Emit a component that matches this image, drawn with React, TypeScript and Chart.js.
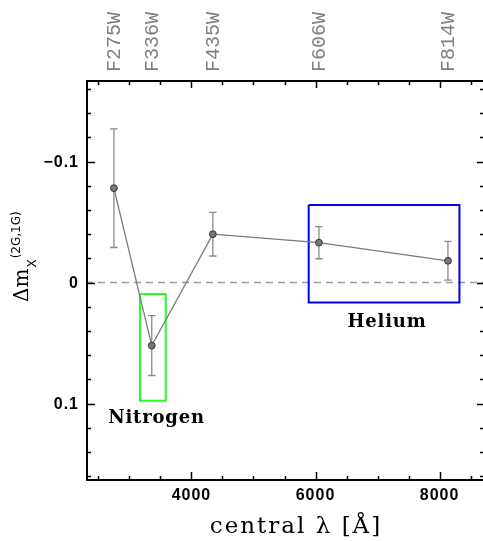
import React, { useEffect, useRef } from 'react';
import { Chart, registerables } from 'chart.js';

Chart.register(...registerables);

// ---- data ----
const FILTERS = ['F275W', 'F336W', 'F435W', 'F606W', 'F814W'];
const LAMBDA = [2750, 3360, 4345, 6055, 8135];
const DELTA_M = [-0.078, 0.052, -0.04, -0.033, -0.018];
const ERR = [0.049, 0.0247, 0.018, 0.0133, 0.016];

const NITROGEN_BOX_X = [3170, 3585];
const NITROGEN_BOX_Y = [0.0093, 0.0975];
const HELIUM_BOX_X = [5890, 8320];
const HELIUM_BOX_Y = [-0.064, 0.0165];

const NITROGEN_LABEL = { text: 'Nitrogen', x: 3436, y: 0.1156 };
const HELIUM_LABEL = { text: 'Helium', x: 7152, y: 0.0363 };

const X_RANGE = [2300, 8700];
const Y_RANGE = [-0.1665, 0.163];

const X_MAJOR = [4000, 6000, 8000];
const X_MAJOR_LABELS = ['4000', '6000', '8000'];
const X_MINOR = [2500, 3000, 3500, 4500, 5000, 5500, 6500, 7000, 7500, 8500];
const Y_MAJOR = [-0.1, 0, 0.1];
const Y_MAJOR_LABELS = ['\u22120.1', '0', '0.1'];
const Y_MINOR = [-0.16, -0.14, -0.12, -0.08, -0.06, -0.04, -0.02, 0.02, 0.04, 0.06, 0.08, 0.12, 0.14, 0.16];

const boxPoints = (xs: number[], ys: number[]) => [
  { x: xs[0], y: ys[0] },
  { x: xs[1], y: ys[0] },
  { x: xs[1], y: ys[1] },
  { x: xs[0], y: ys[1] },
  { x: xs[0], y: ys[0] },
];

const errorBarPlugin = {
  id: 'errorBars',
  beforeDatasetsDraw(chart: any) {
    const ctx = chart.ctx;
    const xs = chart.scales.x;
    const ys = chart.scales.y;
    ctx.save();
    ctx.strokeStyle = '#8a8a8a';
    ctx.lineWidth = 1.3;
    LAMBDA.forEach((l, i) => {
      const px = xs.getPixelForValue(l);
      const y1 = ys.getPixelForValue(DELTA_M[i] - ERR[i]);
      const y2 = ys.getPixelForValue(DELTA_M[i] + ERR[i]);
      const cap = 3.7;
      ctx.beginPath();
      ctx.moveTo(px, y1);
      ctx.lineTo(px, y2);
      ctx.moveTo(px - cap, y1);
      ctx.lineTo(px + cap, y1);
      ctx.moveTo(px - cap, y2);
      ctx.lineTo(px + cap, y2);
      ctx.stroke();
    });
    ctx.restore();
  },
};

const framePlugin = {
  id: 'frame',
  afterDraw(chart: any) {
    const ctx = chart.ctx;
    const { left, right, top, bottom } = chart.chartArea;
    const xs = chart.scales.x;
    const ys = chart.scales.y;
    ctx.save();
    // frame
    ctx.strokeStyle = '#000';
    ctx.lineWidth = 2;
    ctx.beginPath();
    ctx.moveTo(right + 2, top);
    ctx.lineTo(left + 1, top);
    ctx.lineTo(left + 1, bottom);
    ctx.lineTo(right + 2, bottom);
    ctx.stroke();

    // ticks
    ctx.lineWidth = 1.5;
    ctx.beginPath();
    X_MINOR.forEach((v) => {
      const p = Math.round(xs.getPixelForValue(v)) + 0.5;
      ctx.moveTo(p, bottom); ctx.lineTo(p, bottom - 4);
      ctx.moveTo(p, top); ctx.lineTo(p, top + 4);
    });
    X_MAJOR.forEach((v) => {
      const p = Math.round(xs.getPixelForValue(v)) + 0.5;
      ctx.moveTo(p, bottom); ctx.lineTo(p, bottom - 8);
      ctx.moveTo(p, top); ctx.lineTo(p, top + 7);
    });
    Y_MINOR.forEach((v) => {
      const p = Math.round(ys.getPixelForValue(v)) + 0.5;
      ctx.moveTo(left, p); ctx.lineTo(left + 5, p);
      ctx.moveTo(right, p); ctx.lineTo(right - 3, p);
    });
    Y_MAJOR.forEach((v) => {
      const p = Math.round(ys.getPixelForValue(v)) + 0.5;
      ctx.moveTo(left, p); ctx.lineTo(left + 9, p);
      ctx.moveTo(right, p); ctx.lineTo(right - 6, p);
    });
    ctx.stroke();

    // tick labels
    ctx.fillStyle = '#000';
    ctx.font = 'bold 16px "Liberation Sans"';
    (ctx as any).letterSpacing = '1px';
    ctx.textBaseline = 'middle';
    ctx.textAlign = 'right';
    Y_MAJOR.forEach((v, i) => {
      ctx.fillText(Y_MAJOR_LABELS[i], 79, ys.getPixelForValue(v) + 1);
    });
    ctx.textAlign = 'center';
    X_MAJOR.forEach((v, i) => {
      ctx.fillText(X_MAJOR_LABELS[i], xs.getPixelForValue(v), 496);
    });

    // x title
    ctx.font = '23px "DejaVu Serif"';
    (ctx as any).letterSpacing = '2px';
    ctx.textBaseline = 'alphabetic';
    ctx.textAlign = 'center';
    ctx.fillText('central \u03bb [\u00c5]', 296, 533);

    // y title
    (ctx as any).letterSpacing = '0px';
    ctx.save();
    ctx.translate(28, 302);
    ctx.rotate(-Math.PI / 2);
    ctx.textAlign = 'left';
    ctx.font = '20px "DejaVu Serif"';
    ctx.fillText('\u0394m', 0, 0);
    const w1 = ctx.measureText('\u0394m').width;
    ctx.font = '12px "DejaVu Sans"';
    ctx.fillText('X', w1 + 1, 8);
    const wx = ctx.measureText('X').width;
    ctx.font = '12px "DejaVu Sans"';
    ctx.fillText('(2G,1G)', w1 + wx + 2, -8);
    ctx.restore();

    // top filter labels
    ctx.fillStyle = '#808080';
    ctx.font = '20px "Liberation Mono"';
    LAMBDA.forEach((l, i) => {
      ctx.save();
      ctx.translate(xs.getPixelForValue(l), 72);
      ctx.rotate(-Math.PI / 2);
      ctx.textAlign = 'left';
      ctx.textBaseline = 'middle';
      ctx.fillText(FILTERS[i], 0, 1);
      ctx.restore();
    });

    // annotations
    ctx.fillStyle = '#000';
    ctx.font = 'bold 18px "DejaVu Serif"';
    (ctx as any).letterSpacing = '0.8px';
    ctx.textAlign = 'center';
    ctx.textBaseline = 'alphabetic';
    [NITROGEN_LABEL, HELIUM_LABEL].forEach((a) => {
      ctx.fillText(a.text, xs.getPixelForValue(a.x), ys.getPixelForValue(a.y));
    });
    ctx.restore();
  },
};

export default function App() {
  const ref = useRef<HTMLCanvasElement>(null);
  useEffect(() => {
    document.body.style.margin = '0';
    const chart = new Chart(ref.current as HTMLCanvasElement, {
      type: 'line',
      data: {
        datasets: [
          {
            data: LAMBDA.map((x, i) => ({ x, y: DELTA_M[i] })),
            borderColor: '#7a7a7a',
            borderWidth: 1.3,
            pointRadius: 3.4,
            pointBackgroundColor: '#777777',
            pointBorderColor: '#333333',
            pointBorderWidth: 1,
            tension: 0,
          },
          {
            data: boxPoints(NITROGEN_BOX_X, NITROGEN_BOX_Y),
            borderColor: '#22ff22',
            borderWidth: 2,
            pointRadius: 0,
            tension: 0,
          },
          {
            data: boxPoints(HELIUM_BOX_X, HELIUM_BOX_Y),
            borderColor: '#0000ee',
            borderWidth: 2,
            pointRadius: 0,
            tension: 0,
          },
          {
            data: [
              { x: X_RANGE[0], y: 0 },
              { x: X_RANGE[1], y: 0 },
            ],
            borderColor: '#999999',
            borderWidth: 1.5,
            borderDash: [7, 5],
            pointRadius: 0,
          },
        ],
      },
      options: {
        animation: false,
        responsive: false,
        maintainAspectRatio: false,
        devicePixelRatio: 1,
        layout: { autoPadding: false, padding: { left: 86, top: 81, right: 0, bottom: 61 } },
        plugins: { legend: { display: false }, tooltip: { enabled: false } },
        scales: {
          x: { type: 'linear', display: false, min: X_RANGE[0], max: X_RANGE[1] },
          y: { type: 'linear', display: false, reverse: true, min: Y_RANGE[0], max: Y_RANGE[1] },
        },
      },
      plugins: [errorBarPlugin, framePlugin],
    } as any);
    return () => chart.destroy();
  }, []);
  return (
    <div style={{ position: 'fixed', left: 0, top: 0, width: 483, height: 541, background: '#fff' }}>
      <canvas ref={ref} width={483} height={541} style={{ display: 'block', width: 483, height: 541 }} />
    </div>
  );
}
